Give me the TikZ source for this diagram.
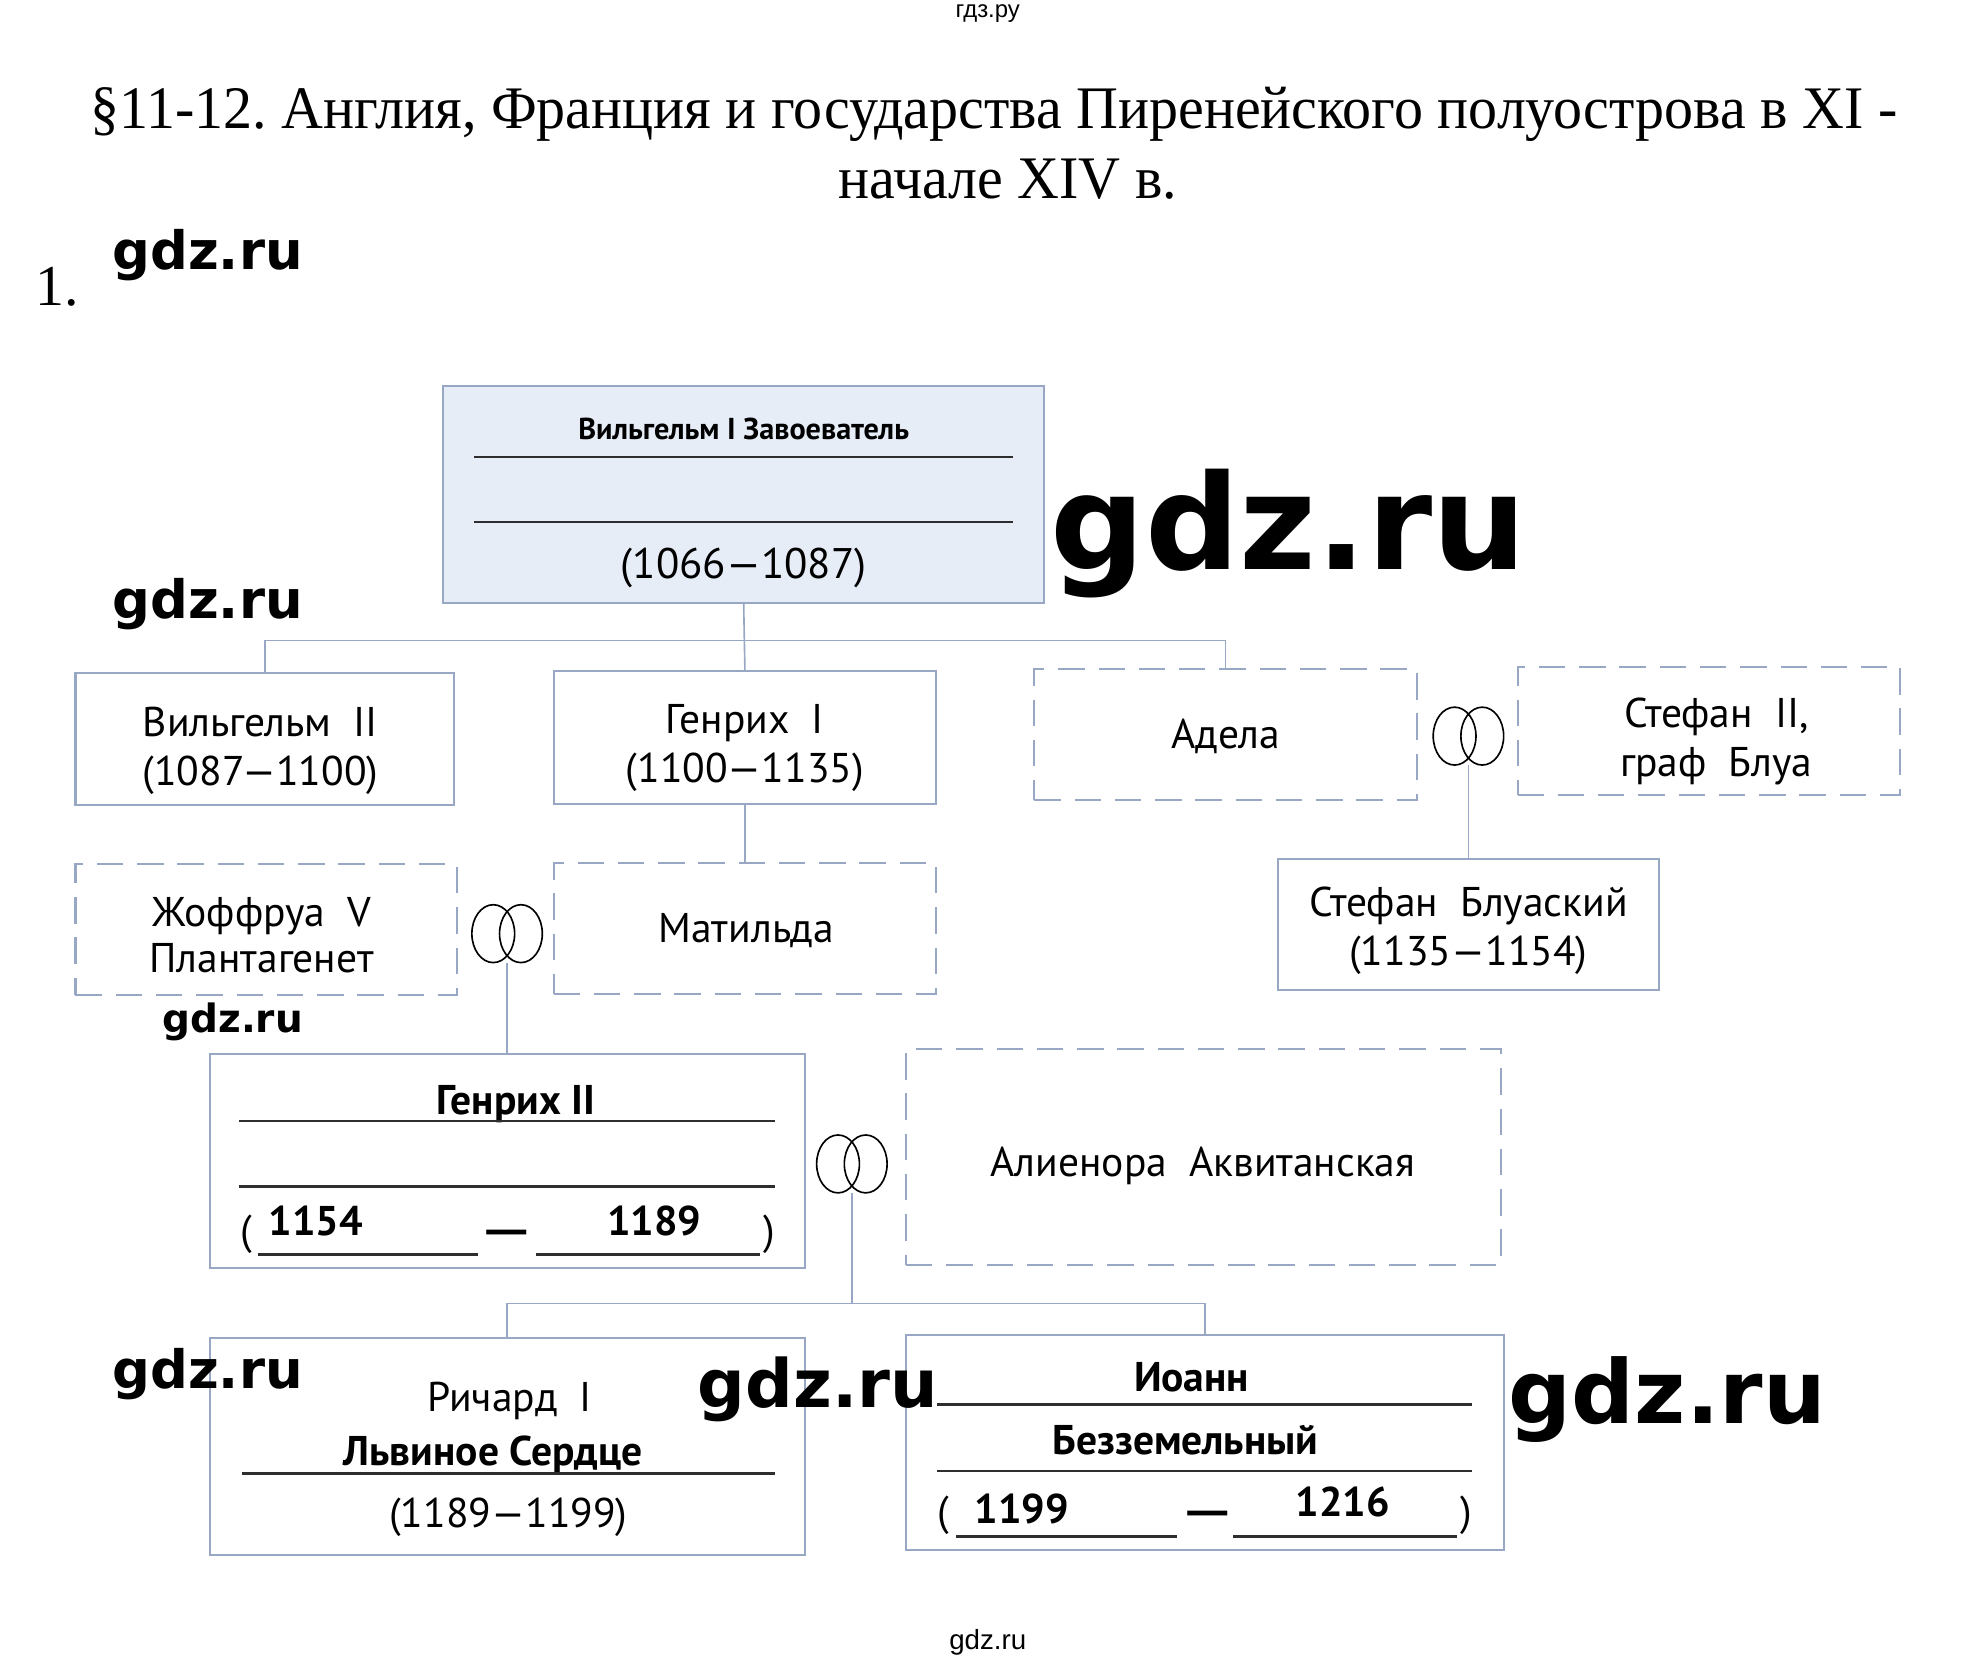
\documentclass[tikz,border=0pt]{standalone}
\usepackage{fontspec}
\setmainfont{Liberation Serif}
\newfontfamily\boxfont{PT Sans}
\newfontfamily\markfont{DejaVu Sans}
\newfontfamily\smallsans{Liberation Sans}
\definecolor{frameblue}{HTML}{98A8C4}
\definecolor{topfill}{HTML}{E6EDF7}
\definecolor{inkgray}{HTML}{2E2E2E}
\frenchspacing
\newcommand\weddingrings[1]{%
  \draw[ring_line] ([xshift=-11pt]#1.center) ellipse [x radius=17pt, y radius=23pt]
                   ([xshift=11pt]#1.center) ellipse [x radius=17pt, y radius=23pt];}
\begin{document}
\begin{tikzpicture}[
        x=1pt, y=-1pt,
        every node/.style={inner sep=0pt, outer sep=0pt},
        box_solid/.style={draw=frameblue, line width=1.6pt, rectangle},
        box_dashed/.style={box_solid, dash pattern=on 21pt off 11pt},
        box_top/.style={box_solid, fill=topfill},
        link_line/.style={draw=frameblue, line width=1.3pt},
        under_line/.style={draw=inkgray, line width=2pt},
        ring_box/.style={minimum width=56pt, minimum height=46pt},
        ring_line/.style={draw=black, line width=1.3pt},
        txt_reg/.style={anchor=base, font=\boxfont\fontsize{33}{39}\selectfont},
        txt_bold/.style={anchor=base, font=\boxfont\bfseries\fontsize{33}{39}\selectfont},
        year_dash/.style={txt_bold, xscale=1.6},
        title_txt/.style={anchor=base, xscale=0.96, font=\fontsize{48}{56}\selectfont},
        wm/.style={font=\markfont\bfseries\fontsize{#1}{#1}\selectfont}
        ]
    \fill[white] (0,0) rectangle (1568,1319.3);
    \useasboundingbox (0,0) rectangle (1568,1319.3);

    % heading
    \node[font=\smallsans\fontsize{19}{19}\selectfont] (site_top) at (785,11) {гдз.ру};
    \node[title_txt] (title_a) at (790,102)
        {§11-12. Англия, Франция и государства Пиренейского полуострова в XI -};
    \node[title_txt] (title_b) at (801,158) {начале XIV в.};
    \node[anchor=base west, font=\fontsize{46}{50}\selectfont] (task_no) at (28,243) {1.};

    % Вильгельм I
    \node[box_top, minimum width=478pt, minimum height=172pt] (wilhelm1) at (591,393) {};
    \node[txt_bold, font=\boxfont\bfseries\fontsize{24}{28}\selectfont] (wilhelm1_name) at (591,349) {Вильгельм I Завоеватель};
    \draw[under_line] (377,363) -- (805,363);
    \draw[under_line] (377,415) -- (805,415);
    \node[txt_reg, font=\boxfont\fontsize{34}{40}\selectfont] (wilhelm1_years) at (591,460) {(1066—1087)};

    % children
    \node[box_solid, minimum width=301pt, minimum height=105pt] (wilhelm2) at (210.5,587.5) {};
    \node[txt_reg] (wilhelm2_name) at (207,585) {Вильгельм\ \ II};
    \node[txt_reg] (wilhelm2_years) at (207,624) {(1087—1100)};

    \node[box_solid, minimum width=304pt, minimum height=106pt] (henry1) at (592,586) {};
    \node[txt_reg] (henry1_name) at (592,583) {Генрих\ \ I};
    \node[txt_reg] (henry1_years) at (592,622) {(1100—1135)};

    \node[box_dashed, minimum width=304pt, minimum height=104pt] (adela) at (974,584) {};
    \node[txt_reg] (adela_name) at (974,595) {Адела};

    \node[ring_box] (ring_as) at (1167,585) {};
    \weddingrings{ring_as}

    \node[box_dashed, minimum width=304pt, minimum height=102pt] (stephen2) at (1358,581) {};
    \node[txt_reg] (stephen2_name) at (1364,578) {Стефан\ \ II,};
    \node[txt_reg] (stephen2_title) at (1364,617) {граф\ \ Блуа};

    \node[box_solid, minimum width=303pt, minimum height=104pt] (stephen_bl) at (1167,735) {};
    \node[txt_reg] (stephen_bl_name) at (1167,728) {Стефан\ \ Блуаский};
    \node[txt_reg] (stephen_bl_years) at (1167,767) {(1135—1154)};

    % Матильда и Жоффруа
    \node[box_dashed, minimum width=303pt, minimum height=104pt] (geoffrey) at (211.5,739) {};
    \node[txt_reg] (geoffrey_name) at (208,736) {Жоффруа\ \ V};
    \node[txt_reg] (geoffrey_house) at (208,773) {Плантагенет};

    \node[ring_box] (ring_gm) at (403,742) {};
    \weddingrings{ring_gm}

    \node[box_dashed, minimum width=304pt, minimum height=104pt] (matilda) at (592,738) {};
    \node[txt_reg] (matilda_name) at (593,749) {Матильда};

    % Генрих II
    \node[box_solid, minimum width=473pt, minimum height=170pt] (henry2) at (403,923) {};
    \node[txt_bold] (henry2_name) at (410,886) {Генрих II};
    \draw[under_line] (190,891) -- (616,891);
    \draw[under_line] (190,943) -- (616,943);
    \node[txt_reg] (henry2_open) at (196,989) {(};
    \node[txt_bold] (henry2_from) at (251,982) {1154};
    \draw[under_line] (205,997) -- (380,997);
    \node[year_dash] (henry2_dash) at (403,989) {—};
    \node[txt_bold] (henry2_to) at (520,982) {1189};
    \draw[under_line] (426,997) -- (604,997);
    \node[txt_reg] (henry2_close) at (611,989) {)};

    \node[ring_box] (ring_he) at (677,925) {};
    \weddingrings{ring_he}

    \node[box_dashed, minimum width=473pt, minimum height=171pt] (eleanor) at (956.5,919.5) {};
    \node[txt_reg] (eleanor_name) at (956,935) {Алиенора\ \ Аквитанская};

    % Ричард и Иоанн
    \node[box_solid, minimum width=473pt, minimum height=173pt] (richard) at (403,1149.5) {};
    \node[txt_reg] (richard_name) at (405,1122) {Ричард\ \ I};
    \node[txt_bold] (richard_nick) at (392,1165) {Львиное Сердце};
    \draw[under_line] (192,1171) -- (616,1171);
    \node[txt_reg] (richard_years) at (404,1214) {(1189—1199)};

    \node[box_solid, minimum width=475pt, minimum height=171pt] (john) at (957.5,1146.5) {};
    \node[txt_bold] (john_name) at (947,1106) {Иоанн};
    \draw[under_line] (745,1116) -- (1170,1116);
    \node[txt_bold] (john_nick) at (942,1156) {Безземельный};
    \draw[under_line] (745,1169) -- (1170,1169);
    \node[txt_reg] (john_open) at (750,1212) {(};
    \node[txt_bold] (john_from) at (812,1211) {1199};
    \draw[under_line] (760,1221) -- (935,1221);
    \node[year_dash] (john_dash) at (960,1212) {—};
    \node[txt_bold] (john_to) at (1067,1205) {1216};
    \draw[under_line] (980,1221) -- (1158,1221);
    \node[txt_reg] (john_close) at (1165,1212) {)};

    % links
    \coordinate (fork_top) at (591,509);
    \coordinate (fork_kids) at (677,1036);
    \draw[link_line] (wilhelm1.south) -- (henry1.north);
    \draw[link_line] (wilhelm2.north) |- (fork_top) -| (adela.north);
    \draw[link_line] (henry1.south) -- (matilda.north);
    \draw[link_line] (ring_as.south) -- (stephen_bl.north);
    \draw[link_line] (ring_gm.south) -- (ring_gm.south |- henry2.north);
    \draw[link_line] (ring_he.south) -- (fork_kids);
    \draw[link_line] (richard.north) |- (fork_kids) -| (john.north);

    % watermarks
    \node[wm=42] (wm_a) at (165,203) {gdz.ru};
    \node[wm=42] (wm_b) at (165,480) {gdz.ru};
    \node[wm=105] (wm_c) at (1024,424) {gdz.ru};
    \node[wm=31] (wm_d) at (185,812) {gdz.ru};
    \node[wm=42] (wm_e) at (165,1092) {gdz.ru};
    \node[wm=53] (wm_f) at (650,1104) {gdz.ru};
    \node[wm=70] (wm_g) at (1325,1112) {gdz.ru};
    \node[font=\smallsans\fontsize{22}{22}\selectfont] (site_bottom) at (785,1305) {gdz.ru};
\end{tikzpicture}
\end{document}
